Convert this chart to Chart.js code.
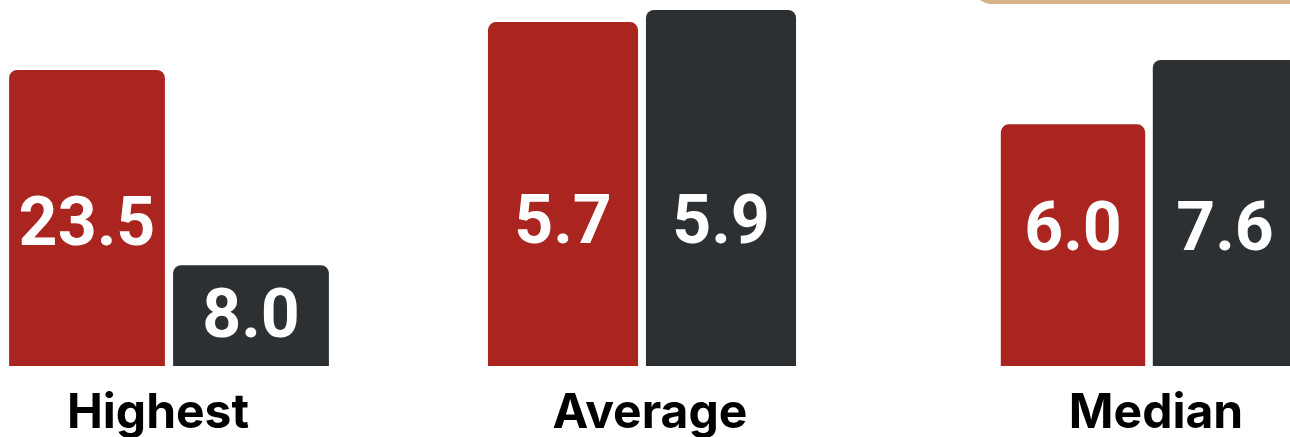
<!DOCTYPE html>
<html>
<head>
<meta charset="utf-8">
<script src="https://cdn.jsdelivr.net/npm/chart.js@4"></script>
<style>
    html, body { margin: 0; padding: 0; background: #fff; width: 1290px; height: 437px; overflow: hidden; }
    .box { position: absolute; top: 0; height: 470px; }
    .tab { position: absolute; left: 972px; top: -36px; width: 420px; height: 40px; background: #d5b28a; border-radius: 24px; }
</style>
</head>
<body>
<div class="tab"></div>
<div class="box" style="left:5px;width:328px"><canvas id="chart-0"></canvas></div>
<div class="box" style="left:484px;width:316px"><canvas id="chart-1"></canvas></div>
<div class="box" style="left:997px;width:304px"><canvas id="chart-2"></canvas></div>
<script>
const categories = ['Highest', 'Average', 'Median'];
const redValues = [23.5, 5.7, 6.0];
const darkValues = [8.0, 5.9, 7.6];

// each group has its own scale in the original
const axisMax = [28.26, 5.9, 8.84];
const labelY = [228, 226, 233];
const labelShift = [-11, 8, 7];

const valueLabels = {
    id: 'valueLabels',
    afterDatasetsDraw(chart, args, opts) {
        const ctx = chart.ctx;
        ctx.save();
        ctx.fillStyle = '#ffffff';
        ctx.font = 'bold 68px Roboto';
        ctx.textAlign = 'center';
        ctx.textBaseline = 'middle';
        chart.data.datasets.forEach((ds, i) => {
            chart.getDatasetMeta(i).data.forEach((bar, j) => {
                let y = opts.y;
                if (y < bar.y + 38) y = (bar.y + bar.base) / 2 + 4; // short bar: centre it
                ctx.fillText(ds.data[j].toFixed(1), bar.x, y);
            });
        });
        ctx.restore();
    }
};

categories.forEach((cat, k) => {
    new Chart(document.getElementById('chart-' + k), {
        type: 'bar',
        data: {
            labels: [cat],
            datasets: [{
                data: [redValues[k]],
                backgroundColor: '#ab2520',
                borderRadius: { topLeft: 8, topRight: 8, bottomLeft: 0, bottomRight: 0 },
                borderSkipped: false,
                categoryPercentage: 1,
                barPercentage: 0.95
            }, {
                data: [darkValues[k]],
                backgroundColor: '#2c3033',
                borderRadius: { topLeft: 8, topRight: 8, bottomLeft: 0, bottomRight: 0 },
                borderSkipped: false,
                categoryPercentage: 1,
                barPercentage: 0.95
            }]
        },
        options: {
            animation: false,
            maintainAspectRatio: false,
            responsive: true,
            layout: { padding: { top: 10, left: 0, right: 0, bottom: 0 } },
            scales: {
                x: {
                    grid: { display: false },
                    border: { display: false },
                    ticks: {
                        color: '#000',
                        padding: 11,
                        labelOffset: labelShift[k],
                        font: { family: 'Inter', weight: 'bold', size: 48 }
                    },
                    afterFit: (axis) => { axis.height = 104; }
                },
                y: {
                    display: false,
                    min: 0,
                    max: axisMax[k]
                }
            },
            plugins: {
                legend: { display: false },
                tooltip: { enabled: false },
                valueLabels: { y: labelY[k] }
            }
        },
        plugins: [valueLabels]
    });
});
</script>
</body>
</html>
